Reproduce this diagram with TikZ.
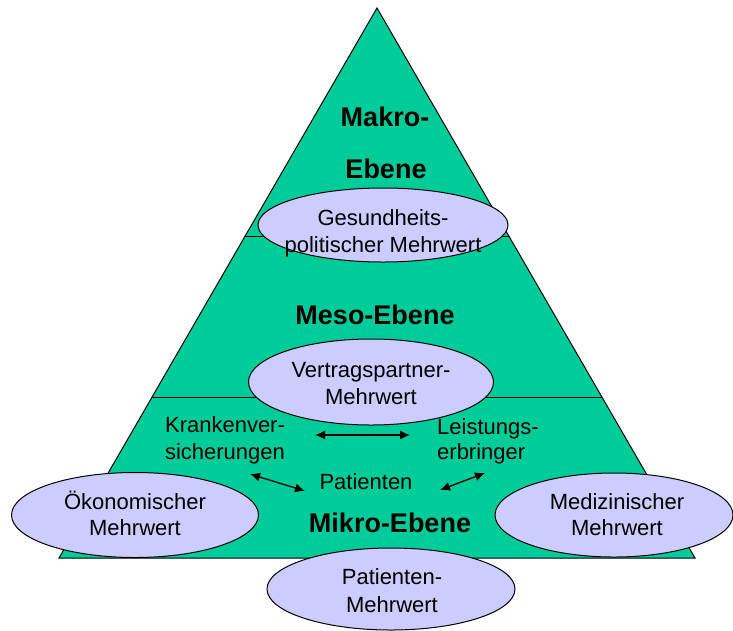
\documentclass[tikz,border=0pt]{standalone}
\usepackage{fontspec}
\setmainfont{Liberation Sans}
\usetikzlibrary{shapes.geometric,arrows.meta}
\definecolor{pyrgreen}{RGB}{0,204,153}
\definecolor{ovalfill}{RGB}{204,204,255}
\tikzset{
  oval/.style={ellipse, draw=black, line width=1pt, fill=ovalfill, inner sep=0pt},
  txt/.style={inner sep=0pt, font=\fontsize{22}{26}\selectfont, text height=15.8pt, text depth=0pt},
  head/.style={inner sep=0pt, font=\bfseries\fontsize{27}{30}\selectfont, text height=19.3pt, text depth=0pt},
  dbl/.style={{Latex[length=10pt,width=9pt]}-{Latex[length=10pt,width=9pt]}, line width=1.3pt}
}
\begin{document}
\begin{tikzpicture}[x=1pt,y=-1pt]
\useasboundingbox (0,0) rectangle (733,630);
% pyramid
\coordinate (apex) at (377,8);
\coordinate (bl) at (59,558);
\coordinate (br) at (695,558);
\filldraw[fill=pyrgreen, draw=black, line width=1pt] (apex) -- (br) -- (bl) -- cycle;
\coordinate (l1a) at (245.2,236);
\coordinate (l1b) at (508.8,236);
\coordinate (l2a) at (152.1,397);
\coordinate (l2b) at (601.9,397);
\draw[line width=1pt] (l1a) -- (l1b);
\draw[line width=1pt] (l2a) -- (l2b);
% ellipses
\node[oval, minimum width=250, minimum height=74] (eg) at (383,225) {};
\node[oval, minimum width=245, minimum height=86] (ev) at (371,382) {};
\node[oval, minimum width=247, minimum height=85] (eo) at (135,515) {};
\node[oval, minimum width=238, minimum height=84] (em) at (614,515) {};
\node[oval, minimum width=248, minimum height=82] (ep) at (391,589) {};
% headings
\node[head] (makro) at (385,117) {Makro-};
\node[head] (ebene) at (386,169) {Ebene};
\node[head] (meso) at (375,315) {Meso-Ebene};
\node[head] (mikro) at (390,523) {Mikro-Ebene};
% ellipse texts
\node[txt] (tg1) at (383,218) {Gesundheits-};
\node[txt] (tg2) at (383,245) {politischer Mehrwert};
\node[txt] (tv1) at (371,370) {Vertragspartner-};
\node[txt] (tv2) at (371,397) {Mehrwert};
\node[txt] (to1) at (135,502) {Ökonomischer};
\node[txt] (to2) at (135,528) {Mehrwert};
\node[txt] (tm1) at (617,502) {Medizinischer};
\node[txt] (tm2) at (617,528) {Mehrwert};
\node[txt] (tp1) at (392,577) {Patienten-};
\node[txt] (tp2) at (392,605) {Mehrwert};
% actors
\node[txt] (kv1) at (225,425) {Krankenver-};
\node[txt] (kv2) at (225,452) {sicherungen};
\node[txt, anchor=west] (le1) at (437,427) {Leistungs-};
\node[txt, anchor=west] (le2) at (437,452) {erbringer};
\node[txt] (pat) at (366,482) {Patienten};
% arrows
\coordinate (h1) at (315,435);
\coordinate (h2) at (410,435);
\coordinate (d1) at (250,474);
\coordinate (d2) at (305,491);
\coordinate (d3) at (440,490);
\coordinate (d4) at (485,473);
\draw[dbl] (h1) -- (h2);
\draw[dbl] (d1) -- (d2);
\draw[dbl] (d3) -- (d4);
\end{tikzpicture}
\end{document}
